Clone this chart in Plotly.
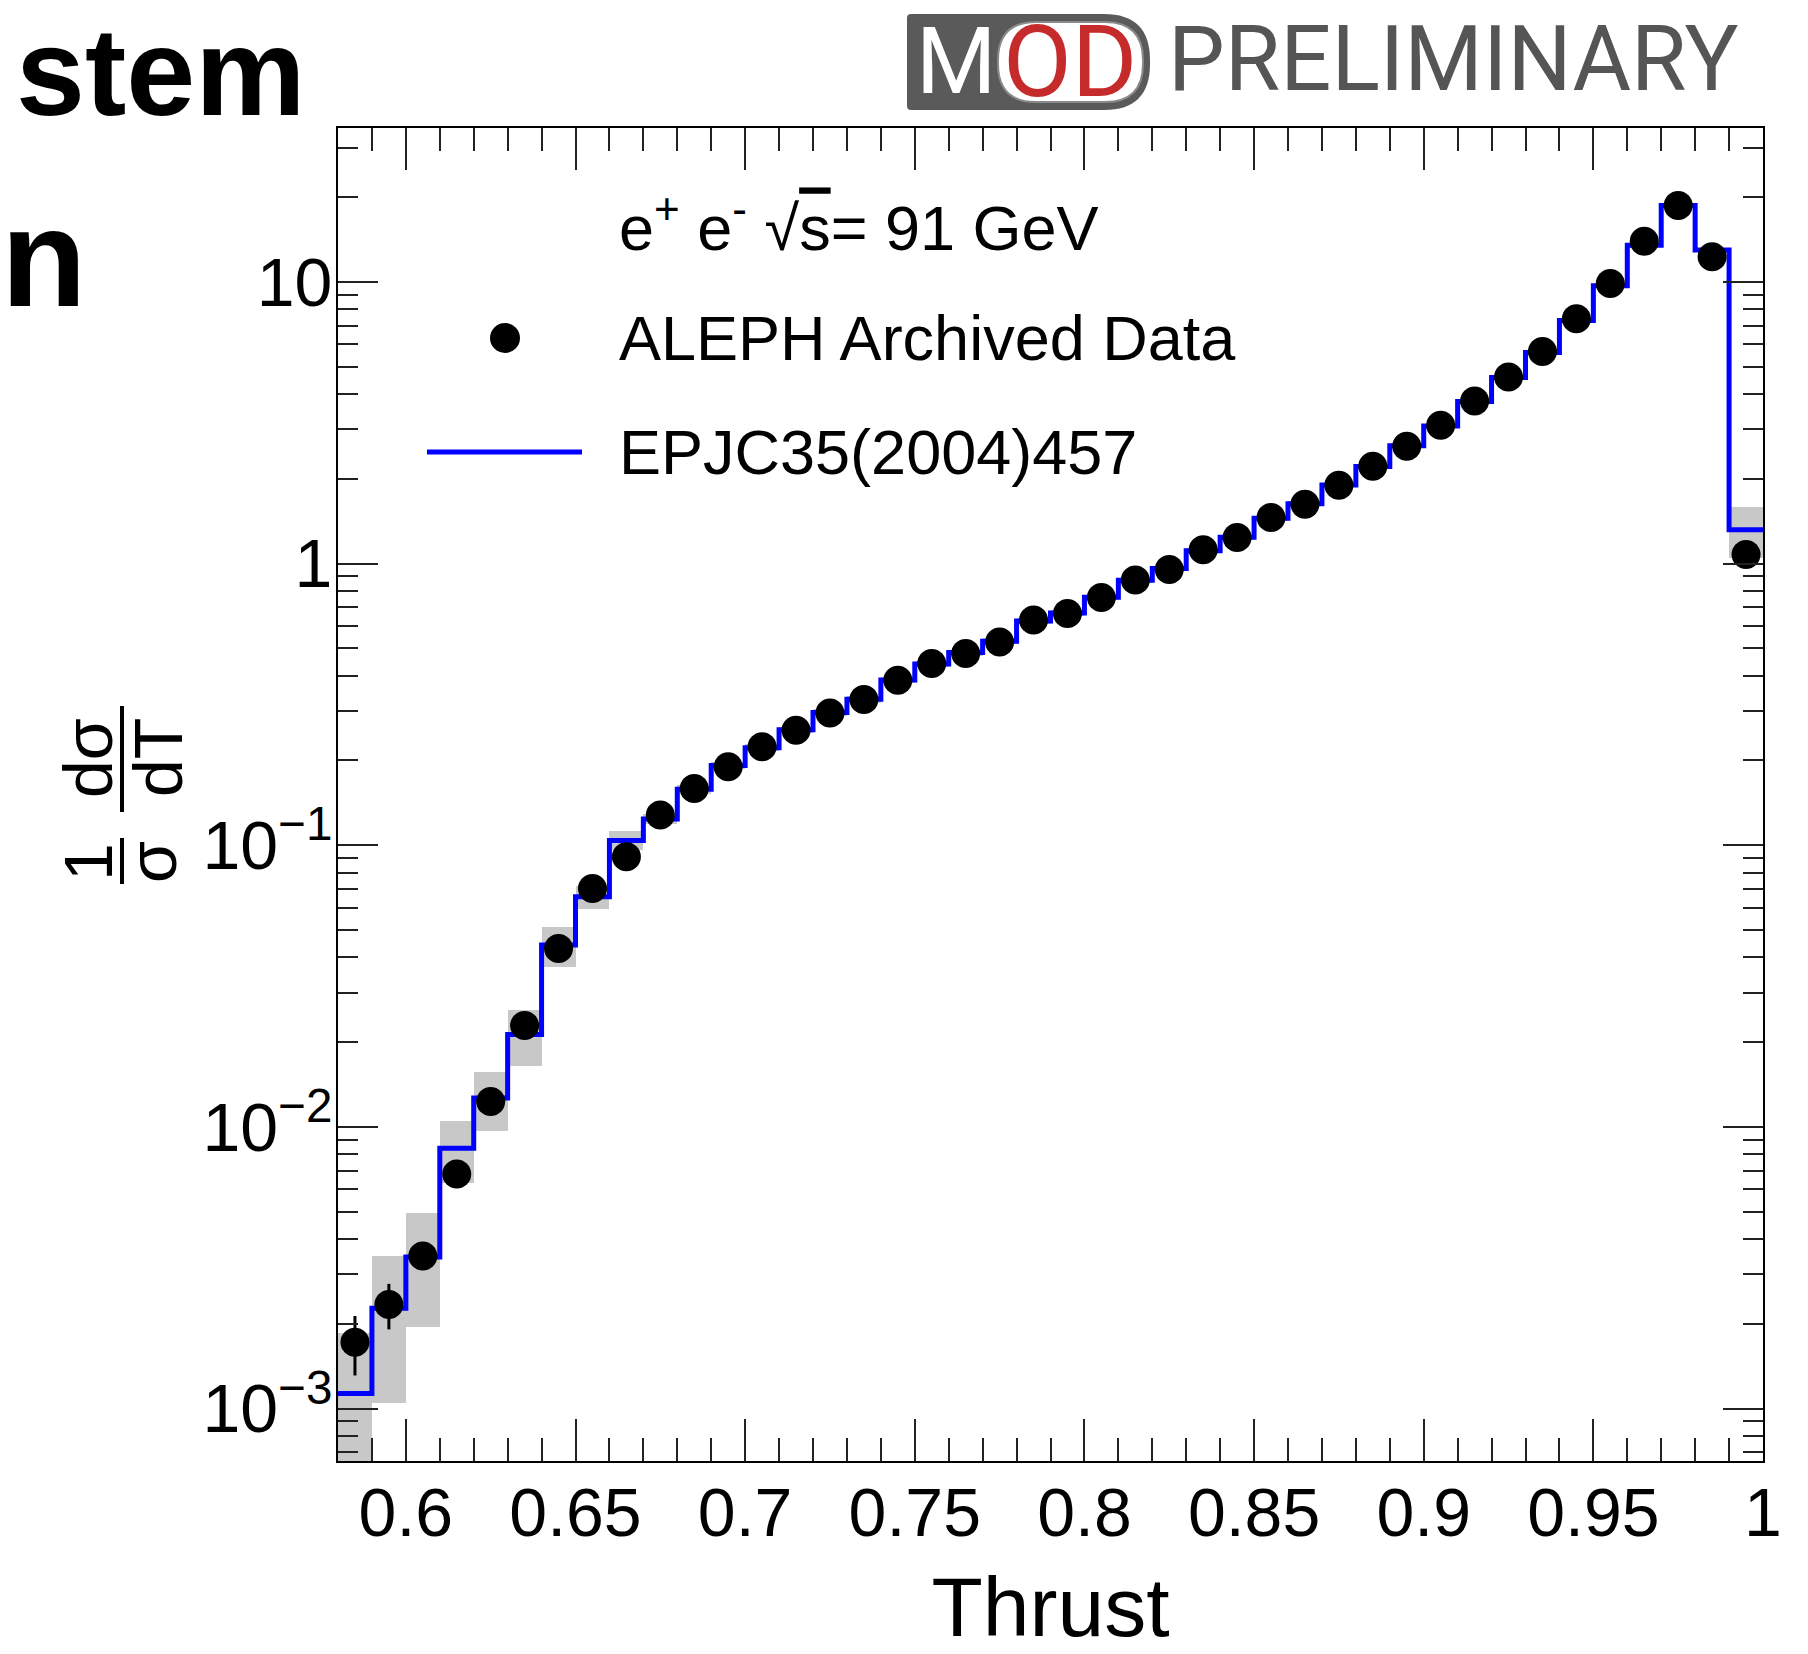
import plotly.graph_objects as go

# ---------------- data ----------------
thrust = [0.585, 0.595, 0.605, 0.615, 0.625, 0.635, 0.645, 0.655, 0.665, 0.675,
          0.685, 0.695, 0.705, 0.715, 0.725, 0.735, 0.745, 0.755, 0.765, 0.775,
          0.785, 0.795, 0.805, 0.815, 0.825, 0.835, 0.845, 0.855, 0.865, 0.875,
          0.885, 0.895, 0.905, 0.915, 0.925, 0.935, 0.945, 0.955, 0.965, 0.975,
          0.985, 0.995]
bin_width = 0.01

aleph_data = [1.72e-3, 2.34e-3, 3.48e-3, 6.8e-3, 0.0123, 0.0229, 0.0430, 0.0702, 0.0910, 0.128,
              0.159, 0.190, 0.2235, 0.256, 0.295, 0.329, 0.3855, 0.442, 0.480, 0.527,
              0.630, 0.665, 0.758, 0.875, 0.953, 1.12, 1.238, 1.457, 1.625, 1.898,
              2.217, 2.61, 3.10, 3.78, 4.60, 5.66, 7.40, 9.87, 13.95, 18.7,
              12.3, 1.077]
aleph_err = [4.1e-4, 4.3e-4, 3.0e-4, 4.0e-4, 5e-4, 7e-4, 9e-4, 1.2e-3, 1.4e-3, 1.7e-3,
             1.9e-3, 2.1e-3, 2.3e-3, 2.5e-3, 2.7e-3, 2.9e-3, 3.2e-3, 3.4e-3, 3.6e-3, 3.8e-3,
             4.1e-3, 4.3e-3, 4.6e-3, 4.9e-3, 5.2e-3, 5.6e-3, 6e-3, 6.5e-3, 7e-3, 7.5e-3,
             8e-3, 9e-3, 0.010, 0.011, 0.012, 0.014, 0.016, 0.019, 0.023, 0.027,
             0.022, 0.010]

epjc = [1.13e-3, 2.27e-3, 3.45e-3, 8.4e-3, 0.01265, 0.0213, 0.0442, 0.0656, 0.104, 0.124,
        0.158, 0.192, 0.222, 0.257, 0.296, 0.330, 0.386, 0.440, 0.483, 0.530,
        0.625, 0.668, 0.760, 0.872, 0.960, 1.11, 1.24, 1.45, 1.63, 1.90,
        2.21, 2.62, 3.08, 3.76, 4.58, 5.62, 7.30, 9.70, 13.5, 18.7,
        13.0, 1.32]
epjc_unc = [7.3e-4, 1.22e-3, 1.5e-3, 2.1e-3, 3.0e-3, 4.8e-3, 7.2e-3, 6.0e-3, 8.0e-3, 5.0e-3,
            5.5e-3, 6.0e-3, 6.5e-3, 7e-3, 8e-3, 9e-3, 0.010, 0.011, 0.012, 0.013,
            0.014, 0.015, 0.016, 0.018, 0.020, 0.022, 0.024, 0.028, 0.032, 0.036,
            0.042, 0.05, 0.06, 0.07, 0.085, 0.10, 0.13, 0.17, 0.23, 0.30,
            0.25, 0.27]

x_tick_vals = [0.6, 0.65, 0.7, 0.75, 0.8, 0.85, 0.9, 0.95, 1.0]
x_tick_text = ["0.6", "0.65", "0.7", "0.75", "0.8", "0.85", "0.9", "0.95", "1"]
y_tick_vals = [1e-3, 1e-2, 1e-1, 1, 10]
y_tick_text = ["10<sup>\u22123</sup>", "10<sup>\u22122</sup>", "10<sup>\u22121</sup>", "1", "10"]

# ---------------- geometry helpers (decorations only) ----------------
W, H = 1808, 1654
L, R, T, B = 338, 1763, 128, 1461


def pp(xpx, ypx):
    return (xpx - L) / (R - L), (B - ypx) / (B - T)


def rrect(x0, y0, x1, y1, rl, rr):
    def P(x, y):
        a, b = pp(x, y)
        return f"{a:.5f},{b:.5f}"
    s = f"M {P(x0 + rl, y0)} L {P(x1 - rr, y0)} Q {P(x1, y0)} {P(x1, y0 + rr)} "
    s += f"L {P(x1, y1 - rr)} Q {P(x1, y1)} {P(x1 - rr, y1)} "
    s += f"L {P(x0 + rl, y1)} Q {P(x0, y1)} {P(x0, y1 - rl)} "
    s += f"L {P(x0, y0 + rl)} Q {P(x0, y0)} {P(x0 + rl, y0)} Z"
    return s


FONT = "Liberation Sans, Arial, sans-serif"

# ---------------- traces ----------------
fig = go.Figure()
fig.add_trace(go.Bar(
    x=thrust, y=[2 * u for u in epjc_unc],
    base=[t - u for t, u in zip(epjc, epjc_unc)],
    width=bin_width, marker=dict(color="#c8c8c8", line=dict(width=0)),
    showlegend=False, hoverinfo="skip"))

edges = [c - bin_width / 2 for c in thrust] + [thrust[-1] + bin_width / 2]
fig.add_trace(go.Scatter(
    x=edges, y=epjc + [epjc[-1]], mode="lines",
    line=dict(color="#0000ff", width=5, shape="hv"),
    name="EPJC35(2004)457", showlegend=False))

fig.add_trace(go.Scatter(
    x=thrust, y=aleph_data, mode="markers",
    marker=dict(color="black", size=29),
    error_y=dict(type="data", array=aleph_err, color="black", thickness=3, width=0),
    name="ALEPH Archived Data", showlegend=False))

# ---------------- axes ----------------
x_minor = [round(e, 3) for e in edges if all(abs(e - v) > 1e-6 for v in x_tick_vals)]
y_minor = [k * 10.0 ** e for e in range(-4, 2) for k in range(2, 10)]

tick_common = dict(ticks="inside", tickwidth=2, tickcolor="#222222", showline=True,
                   linecolor="black", linewidth=2, mirror="allticks", showgrid=False,
                   zeroline=False, automargin=False,
                   tickfont=dict(family=FONT, size=68, color="black"))

fig.update_xaxes(range=[0.58, 1.0], tickmode="array", tickvals=x_tick_vals,
                 ticktext=x_tick_text, ticklen=42, ticklabelstandoff=-9,
                 minor=dict(tickmode="array", tickvals=x_minor, ticks="inside",
                            ticklen=23, tickwidth=2, tickcolor="#222222", showgrid=False),
                 title=dict(text="Thrust", font=dict(family=FONT, size=84, color="black"),
                            standoff=46),
                 **tick_common)
fig.update_yaxes(type="log", range=[-3.1864, 1.5467], tickmode="array",
                 tickvals=y_tick_vals, ticktext=y_tick_text, ticklen=40,
                 ticklabelstandoff=-10,
                 minor=dict(tickmode="array", tickvals=y_minor, ticks="inside",
                            ticklen=20, tickwidth=2, tickcolor="#222222", showgrid=False),
                 **tick_common)

# ---------------- annotations / decorations ----------------
ann = []
shapes = []


def text(xpx, ypx, s, size, xanchor="left", color="black", family=FONT, angle=0,
         yanchor="middle"):
    a, b = pp(xpx, ypx)
    ann.append(dict(x=a, y=b, xref="paper", yref="paper", text=s, showarrow=False,
                    xanchor=xanchor, yanchor=yanchor, textangle=angle,
                    font=dict(family=family, size=size, color=color)))


def hline(x0, x1, y, color, width):
    a0, b0 = pp(x0, y)
    a1, b1 = pp(x1, y)
    shapes.append(dict(type="line", xref="paper", yref="paper", x0=a0, x1=a1, y0=b0, y1=b1,
                       line=dict(color=color, width=width)))


def vline(x, y0, y1, color, width):
    a0, b0 = pp(x, y0)
    a1, b1 = pp(x, y1)
    shapes.append(dict(type="line", xref="paper", yref="paper", x0=a0, x1=a1, y0=b0, y1=b1,
                       line=dict(color=color, width=width)))


# legend (ROOT style, drawn by hand)
text(617, 223, "e<sup>+</sup> e<sup>-</sup> \u221A<span style='text-decoration:overline'>s</span>= 91 GeV", 63)
a0, b0 = pp(505 - 15, 338 - 15)
a1, b1 = pp(505 + 15, 338 + 15)
shapes.append(dict(type="circle", xref="paper", yref="paper", x0=a0, x1=a1, y0=b0, y1=b1,
                   fillcolor="black", line=dict(width=0)))
text(617, 338, "ALEPH Archived Data", 63)
hline(427, 582, 452, "#0000ff", 5)
text(617, 452, "EPJC35(2004)457", 63)

# y-axis title as a fraction 1/sigma dsigma/dT (rotated)
text(88, 862, "1", 68, xanchor="center", angle=-90)
text(152, 862, "\u03c3", 68, xanchor="center", angle=-90)
vline(122, 838, 884, "black", 4)
text(88, 758, "d\u03c3", 68, xanchor="center", angle=-90)
text(158, 758, "dT", 68, xanchor="center", angle=-90)
vline(122, 706, 812, "black", 4)

# cropped slide title fragments
text(307, 1, "<b>stem</b>", 124, xanchor="right", yanchor="top")
text(89, 257, "<b>n</b>", 140, xanchor="right")

# MOD PRELIMINARY logo
shapes.append(dict(type="path", xref="paper", yref="paper", path=rrect(907, 14, 1150, 110, 4, 46),
                   fillcolor="#5a5a5a", line=dict(width=0)))
shapes.append(dict(type="path", xref="paper", yref="paper", path=rrect(998, 22, 1143, 102, 38, 38),
                   fillcolor="white", line=dict(color="#8a8a8a", width=2)))
text(956, 62, "M", 92, xanchor="center", color="white", family="Roboto")
text(1070, 62, "OD", 100, xanchor="center", color="#c62b2b", family="Roboto")
text(1166, 60, "PRELIMINARY", 90, xanchor="left", color="#555555", family="Roboto")

fig.update_layout(
    width=W, height=H, autosize=False,
    margin=dict(l=L, r=W - R, t=T, b=H - B, pad=0, autoexpand=False),
    paper_bgcolor="white", plot_bgcolor="white",
    font=dict(family=FONT, color="black"),
    showlegend=False, bargap=0,
    annotations=ann, shapes=shapes,
)

fig.write_html("out.html", config={"displayModeBar": False})
